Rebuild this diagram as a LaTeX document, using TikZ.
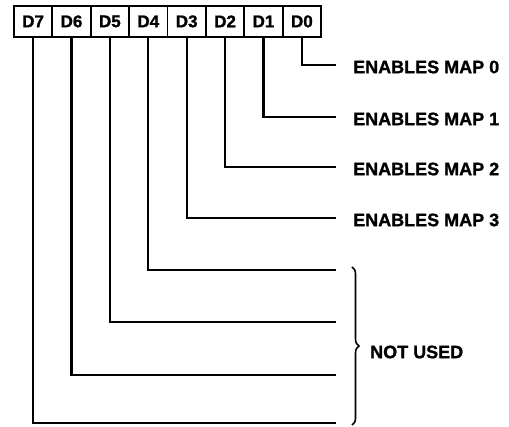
\documentclass[tikz,border=0pt]{standalone}
\usepackage{fontspec}
\setmainfont{Liberation Sans}[BoldFeatures={FakeBold=1.2}]
\usetikzlibrary{decorations.pathreplacing}
\begin{document}
\begin{tikzpicture}[x=1pt,y=-1pt,
 bitbox/.style={draw, line width=1.8pt, minimum width=38.4pt, minimum height=31pt, inner sep=0pt,
   font=\bfseries\fontsize{17}{17}\selectfont, anchor=north west},
 wire/.style={line width=2.1pt},
 lbl/.style={anchor=west, inner sep=0pt, font=\bfseries\fontsize{18}{20}\selectfont}]
\useasboundingbox (0,0) rectangle (509,427);
\node[bitbox] (d7) at (13.0,5) {D7};
\node[bitbox] (d6) at (51.4,5) {D6};
\node[bitbox] (d5) at (89.8,5) {D5};
\node[bitbox] (d4) at (128.2,5) {D4};
\node[bitbox] (d3) at (166.6,5) {D3};
\node[bitbox] (d2) at (205.0,5) {D2};
\node[bitbox] (d1) at (243.4,5) {D1};
\node[bitbox] (d0) at (281.8,5) {D0};
\coordinate (e0) at (336,65);
\coordinate (e1) at (336,117);
\coordinate (e2) at (336,167);
\coordinate (e3) at (336,218);
\coordinate (e4) at (336,270);
\coordinate (e5) at (336,322);
\coordinate (e6) at (336,375);
\coordinate (e7) at (336,423);
\draw[wire] (d0.south) |- (e0);
\draw[wire] (d1.south) |- (e1);
\draw[wire] (d2.south) |- (e2);
\draw[wire] (d3.south) |- (e3);
\draw[wire] (d4.south) |- (e4);
\draw[wire] (d5.south) |- (e5);
\draw[wire] (d6.south) |- (e6);
\draw[wire] (d7.south) |- (e7);
\node[lbl] (m0) at ([xshift=17pt,yshift=-2pt]e0) {ENABLES MAP 0};
\node[lbl] (m1) at ([xshift=17pt,yshift=-2pt]e1) {ENABLES MAP 1};
\node[lbl] (m2) at ([xshift=17pt,yshift=-2pt]e2) {ENABLES MAP 2};
\node[lbl] (m3) at ([xshift=17pt,yshift=-2pt]e3) {ENABLES MAP 3};
\coordinate (b1) at (352,267);
\coordinate (b2) at (352,425);
\draw[line width=1.6pt, decorate, decoration={brace, amplitude=7pt}] (b1) -- (b2);
\node[lbl] (nu) at (370,352) {NOT USED};
\end{tikzpicture}
\end{document}
